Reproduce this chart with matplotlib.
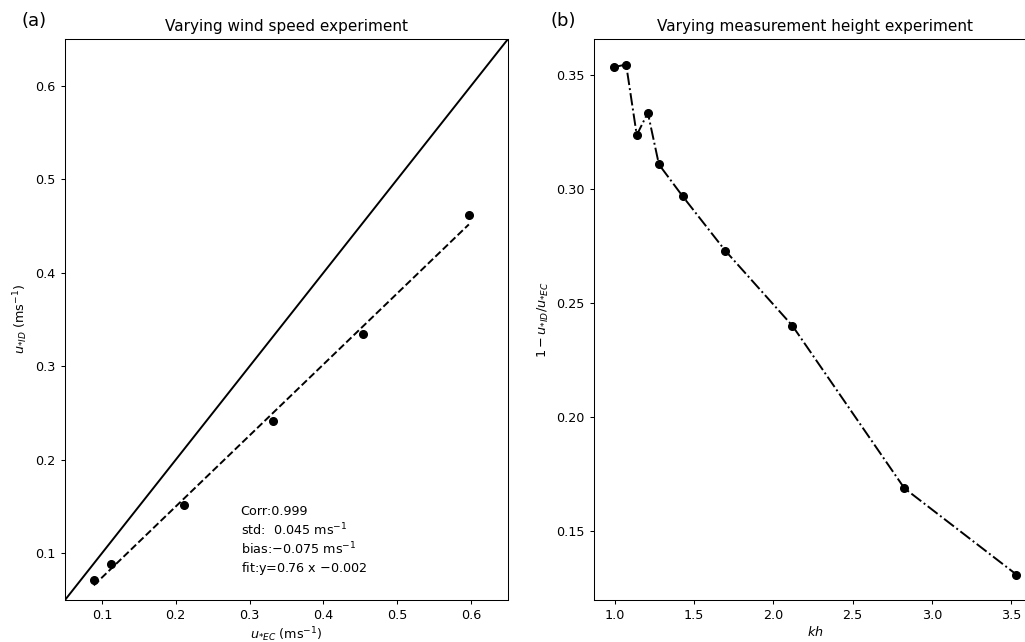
import matplotlib
matplotlib.use("Agg")
import matplotlib.pyplot as plt
import numpy as np

# Panel (a): varying wind speed
u_ec = [0.089, 0.112, 0.211, 0.332, 0.453, 0.597]
u_id = [0.071, 0.089, 0.152, 0.241, 0.334, 0.462]
fit_slope = 0.76
fit_intercept = -0.002
stats_lines = ["Corr:0.999",
               "std:  0.045 ms$^{-1}$",
               "bias:$-$0.075 ms$^{-1}$",
               "fit:y=0.76 x $-$0.002"]

# Panel (b): varying measurement height
kh = [0.994, 1.07, 1.137, 1.207, 1.277, 1.427, 1.696, 2.12, 2.827, 3.534]
ratio = [0.3537, 0.3548, 0.3238, 0.3336, 0.3109, 0.2969, 0.273, 0.240, 0.1686, 0.1307]

plt.rcParams['font.size'] = 9.2
plt.rcParams['axes.titlesize'] = 11
plt.rcParams['axes.linewidth'] = 0.75
plt.rcParams['xtick.major.width'] = 0.75
plt.rcParams['ytick.major.width'] = 0.75
plt.rcParams['xtick.major.size'] = 3.2
plt.rcParams['ytick.major.size'] = 3.2

fig = plt.figure(figsize=(10.25, 6.42), dpi=100)
ax1 = fig.add_axes([0.0634, 0.0654, 0.4322, 0.8738])
ax2 = fig.add_axes([0.5795, 0.0654, 0.4317, 0.8738])

lims = [0.05, 0.65]
ax1.plot(lims, lims, color='k', lw=1.4)
ax1.plot(u_ec, u_id, 'ko', ms=5.5)
xf = np.array([min(u_ec), max(u_ec)])
ax1.plot(xf, fit_slope * xf + fit_intercept, 'k--', lw=1.4)
ax1.set_xlim(lims)
ax1.set_ylim(lims)
ax1.set_xticks([0.1, 0.2, 0.3, 0.4, 0.5, 0.6])
ax1.set_yticks([0.1, 0.2, 0.3, 0.4, 0.5, 0.6])
ax1.set_xlabel("$u_{*EC}$ (ms$^{-1}$)", labelpad=2)
ax1.set_ylabel("$u_{*ID}$ (ms$^{-1}$)")
ax1.set_title("Varying wind speed experiment", pad=6)
for i, s in enumerate(stats_lines):
    ax1.text(0.288, 0.145 - i * 0.0203, s, fontsize=9.2, va='center', ha='left')

ax2.plot(kh, ratio, 'k-.', marker='o', ms=5.5, lw=1.4)
ax2.set_xticks([1.0, 1.5, 2.0, 2.5, 3.0, 3.5])
ax2.set_yticks([0.15, 0.20, 0.25, 0.30, 0.35])
ax2.set_xlabel("$kh$", labelpad=2)
ax2.set_ylabel("$1-u_{*ID}/u_{*EC}$")
ax2.set_title("Varying measurement height experiment", pad=6)

fig.text(0.021, 0.967, "(a)", fontsize=13, va='center', ha='left')
fig.text(0.537, 0.967, "(b)", fontsize=13, va='center', ha='left')

fig.savefig("out.png", dpi=100)
